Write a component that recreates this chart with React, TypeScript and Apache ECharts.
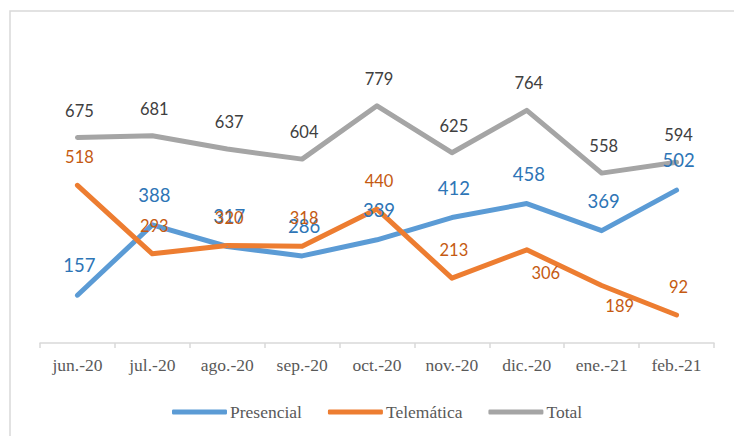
import React, { useEffect, useRef } from "react";
import * as echarts from "echarts";

const categories = ["jun.-20", "jul.-20", "ago.-20", "sep.-20", "oct.-20", "nov.-20", "dic.-20", "ene.-21", "feb.-21"];
const presencial = [157, 388, 317, 286, 339, 412, 458, 369, 502];
const telematica = [518, 293, 320, 318, 440, 213, 306, 189, 92];
const total = [675, 681, 637, 604, 779, 625, 764, 558, 594];

export default function App() {
  const ref = useRef<HTMLDivElement>(null);
  useEffect(() => {
    if (!ref.current) return;
    const chart = echarts.init(ref.current, null, { renderer: "svg" });
    const labelFont = "Lato, 'Open Sans', sans-serif";
    const mk = (
      name: string,
      values: number[],
      color: string,
      labelColor: string,
      fontSize: number,
      offset: number[],
      overrides: Record<number, number[]> = {}
    ) => ({
      name,
      type: "line",
      data: values.map((v, i) =>
        overrides[i] ? { value: v, label: { offset: overrides[i] } } : v
      ),
      symbol: "circle",
      symbolSize: 1,
      itemStyle: { color },
      lineStyle: { color, width: 5, cap: "round", join: "round" },
      label: {
        show: true,
        position: "inside",
        offset,
        color: labelColor,
        fontSize,
        fontWeight: "normal",
        fontFamily: labelFont,
      },
      emphasis: { disabled: true },
    });
    chart.setOption({
      animation: false,
      backgroundColor: "#ffffff",
      graphic: [
        {
          type: "rect",
          shape: { x: 10, y: 11, width: 800, height: 500 },
          style: { fill: "none", stroke: "#d9d9d9", lineWidth: 1.5 },
          silent: true,
        },
      ],
      grid: { left: 40, right: 20, top: 69, bottom: 93, containLabel: false },
      legend: {
        left: 167,
        top: 398,
        itemWidth: 55,
        itemHeight: 5,
        itemGap: 26,
        icon: "roundRect",
        textStyle: {
          fontFamily: "'Liberation Serif', serif",
          fontSize: 17.5,
          fontWeight: "normal",
          color: "#595959",
          padding: [0, 0, 0, -2],
        },
        data: ["Presencial", "Telemática", "Total"],
      },
      xAxis: {
        type: "category",
        data: categories,
        boundaryGap: true,
        axisLine: { lineStyle: { color: "#d9d9d9", width: 1.5 } },
        axisTick: { show: true, length: 5, interval: 0, lineStyle: { color: "#d9d9d9", width: 1.5 } },
        axisLabel: {
          interval: 0,
          margin: 13,
          fontFamily: "'Liberation Serif', serif",
          fontSize: 17.5,
          fontWeight: "normal",
          color: "#595959",
        },
      },
      yAxis: { type: "value", min: 0, max: 900, show: false, splitLine: { show: false } },
      series: [
        mk("Presencial", presencial, "#5b9bd5", "#2e75b6", 18.5, [2, -30]),
        mk("Telemática", telematica, "#ed7d31", "#c55a11", 16.5, [2, -28], { 6: [19, 23], 7: [18, 21] }),
        mk("Total", total, "#a5a5a5", "#404040", 16.5, [2, -27]),
      ],
    });
    return () => chart.dispose();
  }, []);
  return (
    <div
      ref={ref}
      style={{ position: "fixed", left: 0, top: 0, width: 734, height: 436 }}
    />
  );
}
